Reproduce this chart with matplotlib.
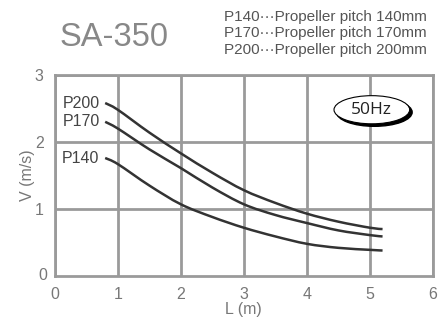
import matplotlib
matplotlib.use("Agg")
import matplotlib.pyplot as plt
from matplotlib.patches import Ellipse, PathPatch
from matplotlib.path import Path
import matplotlib.transforms as mtransforms
import numpy as np

L = [0.8, 1.0, 1.5, 2.0, 2.5, 3.0, 3.5, 4.0, 4.5, 5.0, 5.2]
p200 = [2.58, 2.48, 2.14, 1.83, 1.54, 1.28, 1.09, 0.93, 0.81, 0.72, 0.70]
p170 = [2.30, 2.20, 1.89, 1.61, 1.32, 1.07, 0.91, 0.79, 0.68, 0.61, 0.59]
p140 = [1.76, 1.67, 1.35, 1.07, 0.88, 0.72, 0.59, 0.48, 0.42, 0.39, 0.38]
series_names = ["P200", "P170", "P140"]
xticks = [0, 1, 2, 3, 4, 5, 6]
yticks = [1, 2, 3]
legend_lines = ["P140\u00b7\u00b7\u00b7Propeller pitch 140mm",
                "P170\u00b7\u00b7\u00b7Propeller pitch 170mm",
                "P200\u00b7\u00b7\u00b7Propeller pitch 200mm"]
title = "SA-350"
badge = "50Hz"

plt.rcParams["font.family"] = ["Liberation Sans", "DejaVu Sans"]


def smooth_path(xs, ys):
    """Catmull-Rom style cubic Bezier path through the given data points."""
    pts = np.column_stack([xs, ys]).astype(float)
    verts = [pts[0]]
    codes = [Path.MOVETO]
    n = len(pts)
    for i in range(n - 1):
        p0 = pts[i - 1] if i > 0 else pts[i]
        p1 = pts[i]
        p2 = pts[i + 1]
        p3 = pts[i + 2] if i + 2 < n else pts[i + 1]
        c1 = p1 + (p2 - p0) / 6.0
        c2 = p2 - (p3 - p1) / 6.0
        verts += [c1, c2, p2]
        codes += [Path.CURVE4] * 3
    return Path(verts, codes)


fig = plt.figure(figsize=(4.45, 3.2), dpi=100)
ax = fig.add_axes([0.123, 0.1375, 0.850, 0.6285])
grid_c = "#9a9a9a"
ax.set_xlim(0, 6)
ax.set_ylim(0, 3)
ax.set_xticks(xticks)
ax.set_yticks(yticks)
ax.grid(True, color=grid_c, linewidth=2)
for s in ax.spines.values():
    s.set_color(grid_c)
    s.set_linewidth(2)
ax.tick_params(length=0, labelsize=11.5, labelcolor="#777777", pad=8)
ax.set_xticklabels([str(t) for t in xticks])
ax.set_yticklabels([str(t) for t in yticks])
ax.text(-0.02, 0, "0", transform=ax.get_yaxis_transform(), ha="right", va="center",
        fontsize=11.5, color="#777777")
ax.set_xlabel("L (m)", fontsize=11.5, color="#777777", labelpad=0)
ax.set_ylabel("V (m/s)", fontsize=11.5, color="#777777", labelpad=0)

for vals, name in zip([p200, p170, p140], series_names):
    ax.add_patch(PathPatch(smooth_path(L, vals), facecolor="none", edgecolor="#333333",
                           linewidth=1.8, capstyle="butt", zorder=3))
    ax.annotate(name, (L[0], vals[0]), xytext=(-4, 0), textcoords="offset points",
                ha="right", va="center", fontsize=11.5, color="#444444")

# 50Hz badge
shadow_off = mtransforms.offset_copy(ax.transData, fig=fig, x=2.5, y=-2.5, units="dots")
ax.add_patch(Ellipse((5.03, 2.48), 1.2, 0.42, facecolor="black", edgecolor="black",
                     transform=shadow_off, zorder=5))
ax.add_patch(Ellipse((5.03, 2.48), 1.2, 0.42, facecolor="white", edgecolor="black",
                     linewidth=0.8, zorder=6))
ax.text(5.03, 2.48, badge, ha="center", va="center", fontsize=12.5, color="#222222",
        family="Open Sans", zorder=7)

fig.text(114 / 445, 1 - 37 / 320, title, ha="center", va="center", fontsize=23.5, color="#888888")
for i, line in enumerate(legend_lines):
    fig.text(427 / 445, 1 - (17 + 16.5 * i) / 320, line, ha="right", va="center",
             fontsize=11, color="#555555")

fig.savefig("out.png", dpi=100)
